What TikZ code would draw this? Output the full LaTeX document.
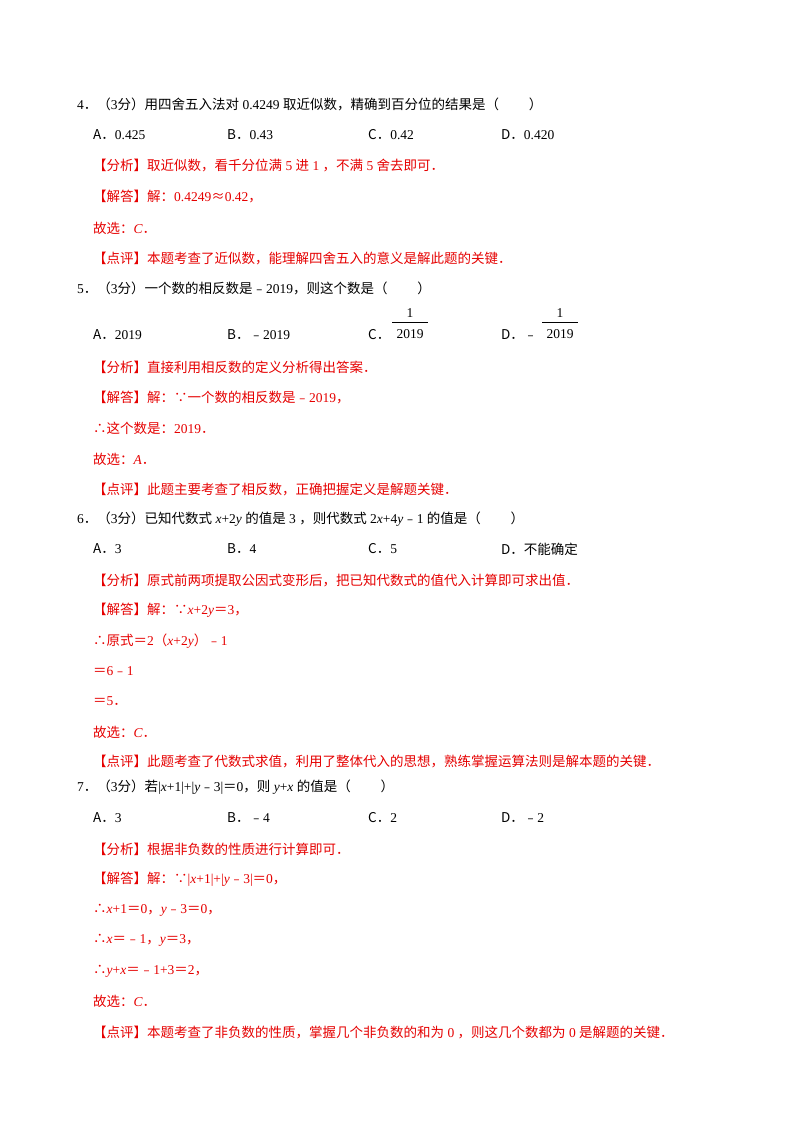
\documentclass[tikz,border=0pt]{standalone}
\usepackage{fontspec}
\setmainfont{Noto Sans CJK SC}
\newfontfamily\lat{Liberation Serif}
\newcommand{\n}[1]{{\lat #1}}
\newcommand{\s}[1]{\hspace{0.25em}{\lat #1}\hspace{0.25em}}
\newcommand{\iv}[1]{{\lat\itshape #1}}
\definecolor{ansred}{RGB}{230,0,0}
\begin{document}
\begin{tikzpicture}[x=1pt,y=-1pt,
  txt/.style={anchor=west,inner sep=0pt,font=\fontsize{13.5}{15}\selectfont},
  red/.style={txt,text=ansred}]
\useasboundingbox[fill=white] (0,0) rectangle (800,1132);
% Q4
\node[txt] (q4) at (77,104) {\n{4}．（\n{3}分）用四舍五入法对\s{0.4249}取近似数，精确到百分位的结果是（\hspace{2.2em}）};
\node[txt] (q4a) at (93,135) {A．\n{0.425}};
\node[txt] (q4b) at (227,135) {B．\n{0.43}};
\node[txt] (q4c) at (368,135) {C．\n{0.42}};
\node[txt] (q4d) at (501,135) {D．\n{0.420}};
\node[red] (q4f) at (93,166) {【分析】取近似数，看千分位满\s{5}进\s{1}，不满\s{5}舍去即可．};
\node[red] (q4j) at (93,197) {【解答】解：\n{0.4249}≈\n{0.42}，};
\node[red] (q4g) at (93,228) {故选：\iv{C}．};
\node[red] (q4p) at (93,258) {【点评】本题考查了近似数，能理解四舍五入的意义是解此题的关键．};
% Q5
\node[txt] (q5) at (77,288) {\n{5}．（\n{3}分）一个数的相反数是﹣\n{2019}，则这个数是（\hspace{2.2em}）};
\node[txt] (q5a) at (93,335) {A．\n{2019}};
\node[txt] (q5b) at (227,335) {B．﹣\n{2019}};
\node[txt] (q5c) at (368,335) {C．};
\node[txt,anchor=center] (q5cn) at (410,313) {\n{1}};
\node[txt,anchor=center] (q5cd) at (410,334) {\n{2019}};
\draw (392,322) -- (428,322);
\node[txt] (q5d) at (501,335) {D．﹣};
\node[txt,anchor=center] (q5dn) at (560,313) {\n{1}};
\node[txt,anchor=center] (q5dd) at (560,334) {\n{2019}};
\draw (542,322) -- (578,322);
\node[red] (q5f) at (93,367) {【分析】直接利用相反数的定义分析得出答案．};
\node[red] (q5j) at (93,398) {【解答】解：∵一个数的相反数是﹣\n{2019}，};
\node[red] (q5k) at (93,428) {∴这个数是：\n{2019}．};
\node[red] (q5g) at (93,459) {故选：\iv{A}．};
\node[red] (q5p) at (93,489) {【点评】此题主要考查了相反数，正确把握定义是解题关键．};
% Q6
\node[txt] (q6) at (77,519) {\n{6}．（\n{3}分）已知代数式\hspace{0.25em}\iv{x}\n{+2}\iv{y}\hspace{0.25em}的值是\s{3}，则代数式\hspace{0.25em}\n{2}\iv{x}\n{+4}\iv{y}﹣\n{1}\hspace{0.25em}的值是（\hspace{2.2em}）};
\node[txt] (q6a) at (93,549) {A．\n{3}};
\node[txt] (q6b) at (227,549) {B．\n{4}};
\node[txt] (q6c) at (368,549) {C．\n{5}};
\node[txt] (q6d) at (501,549) {D．不能确定};
\node[red] (q6f) at (93,580) {【分析】原式前两项提取公因式变形后，把已知代数式的值代入计算即可求出值．};
\node[red] (q6j) at (93,610) {【解答】解：∵\iv{x}\n{+2}\iv{y}＝\n{3}，};
\node[red] (q6k) at (93,641) {∴原式＝\n{2}（\iv{x}\n{+2}\iv{y}）﹣\n{1}};
\node[red] (q6l) at (93,671) {＝\n{6}﹣\n{1}};
\node[red] (q6m) at (93,701) {＝\n{5}．};
\node[red] (q6g) at (93,732) {故选：\iv{C}．};
\node[red] (q6p) at (93,762) {【点评】此题考查了代数式求值，利用了整体代入的思想，熟练掌握运算法则是解本题的关键．};
% Q7
\node[txt] (q7) at (77,787) {\n{7}．（\n{3}分）若\n{|}\iv{x}\n{+1|+|}\iv{y}﹣\n{3|}＝\n{0}，则\hspace{0.25em}\iv{y}\n{+}\iv{x}\hspace{0.25em}的值是（\hspace{2.2em}）};
\node[txt] (q7a) at (93,818) {A．\n{3}};
\node[txt] (q7b) at (227,818) {B．﹣\n{4}};
\node[txt] (q7c) at (368,818) {C．\n{2}};
\node[txt] (q7d) at (501,818) {D．﹣\n{2}};
\node[red] (q7f) at (93,849) {【分析】根据非负数的性质进行计算即可．};
\node[red] (q7j) at (93,879) {【解答】解：∵\n{|}\iv{x}\n{+1|+|}\iv{y}﹣\n{3|}＝\n{0}，};
\node[red] (q7k) at (93,910) {∴\iv{x}\n{+1}＝\n{0}，\iv{y}﹣\n{3}＝\n{0}，};
\node[red] (q7l) at (93,940) {∴\iv{x}＝﹣\n{1}，\iv{y}＝\n{3}，};
\node[red] (q7m) at (93,971) {∴\iv{y}\n{+}\iv{x}＝﹣\n{1+3}＝\n{2}，};
\node[red] (q7g) at (93,1001) {故选：\iv{C}．};
\node[red] (q7p) at (93,1032) {【点评】本题考查了非负数的性质，掌握几个非负数的和为\s{0}，则这几个数都为\s{0}是解题的关键．};
\end{tikzpicture}
\end{document}
